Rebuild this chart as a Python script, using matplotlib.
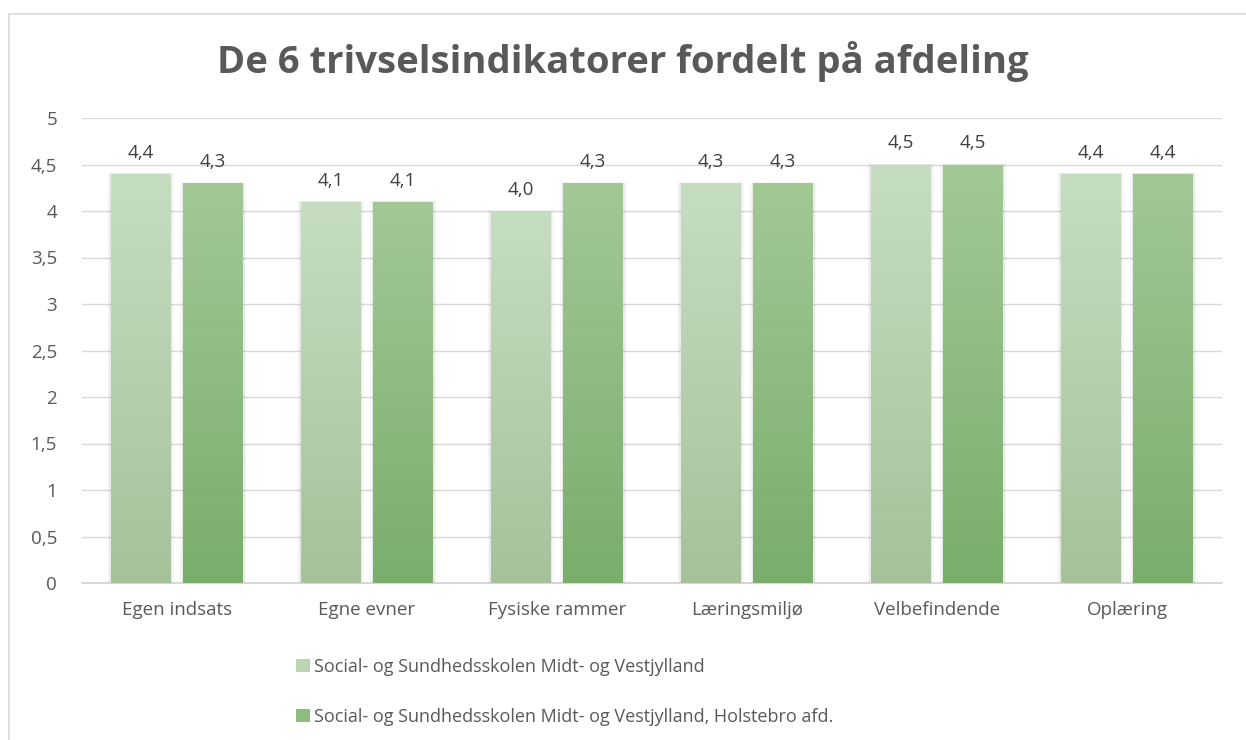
import matplotlib
matplotlib.use("Agg")
import matplotlib.pyplot as plt
import numpy as np
from matplotlib.colors import LinearSegmentedColormap
from matplotlib.patches import Rectangle
import matplotlib.patches as mpatches

categories = ["Egen indsats", "Egne evner", "Fysiske rammer", "Læringsmiljø", "Velbefindende", "Oplæring"]
series_names = ["Social- og Sundhedsskolen Midt- og Vestjylland",
                "Social- og Sundhedsskolen Midt- og Vestjylland, Holstebro afd."]
values_all = [4.4, 4.1, 4.0, 4.3, 4.5, 4.4]
values_holstebro = [4.3, 4.1, 4.3, 4.3, 4.5, 4.4]
yticks = [0, 0.5, 1, 1.5, 2, 2.5, 3, 3.5, 4, 4.5, 5]
ytick_labels = ["0", "0,5", "1", "1,5", "2", "2,5", "3", "3,5", "4", "4,5", "5"]

plt.rcParams['font.family'] = ['Open Sans', 'DejaVu Sans']
W, H = 1246, 740
fig = plt.figure(figsize=(W / 100, H / 100), dpi=100)
fig.patch.set_facecolor("white")

# outer chart border
fig.add_artist(Rectangle((9 / W, -0.05), 1.1, 1 - 14 / H + 0.05, transform=fig.transFigure,
                         fill=False, edgecolor="#d9d9d9", linewidth=1.2))

ax = fig.add_axes([82 / W, 1 - 583 / H, (1222 - 82) / W, (583 - 118) / H])

grads = [
    LinearSegmentedColormap.from_list("g1", ["#a5c29b", "#c6ddc1"]),
    LinearSegmentedColormap.from_list("g2", ["#79ae6b", "#a3c896"]),
]
legend_colors = ["#bcd6b5", "#8bbd7e"]
bar_w = 0.315
offsets = [-0.19, 0.19]
grad_img = np.linspace(0, 1, 256).reshape(-1, 1)

x = np.arange(len(categories))
for s, vals in enumerate([values_all, values_holstebro]):
    bars = ax.bar(x + offsets[s], vals, width=bar_w, color="none", edgecolor="none", zorder=3)
    for b, v in zip(bars, vals):
        x0 = b.get_x()
        # soft shadow
        for k, a in enumerate([0.05, 0.03]):
            d = 0.008 * (k + 1)
            ax.add_patch(Rectangle((x0 - d, 0), bar_w + 2 * d, v + 0.005 * (k + 1),
                                   facecolor="#000000", alpha=a, edgecolor="none", zorder=2))
        im = ax.imshow(grad_img, extent=[x0, x0 + bar_w, 0, v], origin="lower",
                       cmap=grads[s], aspect="auto", zorder=3, interpolation="bilinear")
        im.set_clip_path(b)
        ax.text(b.get_x() + bar_w / 2, v + 0.13, f"{v:.1f}".replace(".", ","),
                ha="center", va="bottom", fontsize=13.5, color="#404040", zorder=4)

ax.set_xlim(-0.5, len(categories) - 0.5)
ax.set_ylim(0, 5)
ax.set_yticks(yticks)
ax.set_yticklabels(ytick_labels)
ax.set_xticks(x)
ax.set_xticklabels(categories)
ax.tick_params(axis="both", length=0, labelsize=13.5, colors="#595959")
ax.tick_params(axis="x", pad=13)
ax.tick_params(axis="y", pad=18)
ax.grid(axis="y", color="#d9d9d9", linewidth=1.0, zorder=0)
ax.set_axisbelow(True)
for sp in ["top", "right", "left"]:
    ax.spines[sp].set_visible(False)
ax.spines["bottom"].set_color("#d0d0d0")
ax.spines["bottom"].set_linewidth(1.2)

fig.text(0.5, 1 - 62 / H, "De 6 trivselsindikatorer fordelt på afdeling", ha="center", va="center",
         fontsize=27.5, fontweight="bold", color="#595959")

handles = [mpatches.Patch(facecolor=c, edgecolor="none") for c in legend_colors]
fig.legend(handles, series_names, loc="upper left", bbox_to_anchor=(296 / W, 1 - 658 / H),
           ncol=1, frameon=False, fontsize=13, labelcolor="#595959",
           handlelength=0.75, handleheight=0.75, handletextpad=0.25, labelspacing=1.75,
           borderaxespad=0, borderpad=0)

fig.savefig("out.png", dpi=100, facecolor="white")
